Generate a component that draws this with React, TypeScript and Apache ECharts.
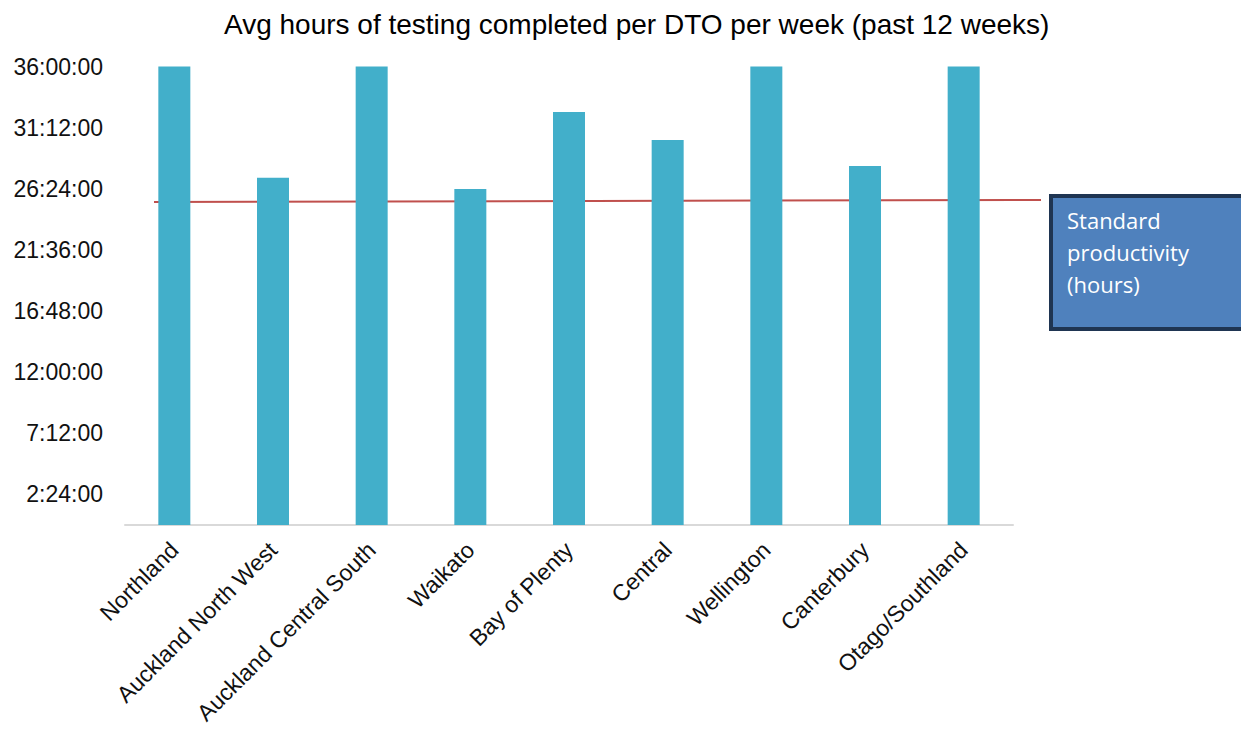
import React, { useEffect, useRef } from "react";
import * as echarts from "echarts";

const titleText = "Avg hours of testing completed per DTO per week (past 12 weeks)";
const categories = [
  "Northland",
  "Auckland North West",
  "Auckland Central South",
  "Waikato",
  "Bay of Plenty",
  "Central",
  "Wellington",
  "Canterbury",
  "Otago/Southland",
];
// average hours per week
const hoursValues = [36, 27.27, 36, 26.38, 32.43, 30.23, 36, 28.19, 36];
// standard productivity line (hours) at left and right ends (drawn slightly sloped in the original)
const standardStart = 25.36;
const standardEnd = 25.52;
const boxLines = ["Standard", "productivity", "(hours)"];
const yMin = 0;
const yMax = 36;
const yStep = 2.4; // labels at odd multiples: 2:24:00, 7:12:00, ...

function fmt(v: number): string {
  const k = Math.round(v / yStep);
  if (k % 2 === 0) return "";
  const mins = Math.round(v * 60);
  const h = Math.floor(mins / 60);
  const m = mins % 60;
  return `${h}:${m < 10 ? "0" + m : m}:00`;
}

export default function App() {
  const ref = useRef<HTMLDivElement>(null);
  useEffect(() => {
    if (!ref.current) return;
    const chart = echarts.init(ref.current, null, { renderer: "svg" });
    const gridLeft = 125;
    const gridRight = 228;
    chart.setOption({
      animation: false,
      backgroundColor: "#ffffff",
      title: {
        text: titleText,
        left: 219,
        top: 5,
        textStyle: {
          fontFamily: "Liberation Sans",
          fontSize: 28,
          fontWeight: "normal",
          color: "#000000",
        },
      },
      grid: { left: gridLeft, right: gridRight, top: 66.5, bottom: 204, containLabel: false },
      xAxis: {
        type: "category",
        data: categories,
        axisTick: { show: false },
        axisLine: { show: true, lineStyle: { color: "#D9D9D9", width: 2 } },
        axisLabel: {
          rotate: 45,
          interval: 0,
          margin: 21,
          fontFamily: "Liberation Sans",
          fontSize: 23,
          color: "#111111",
        },
      },
      yAxis: {
        type: "value",
        min: yMin,
        max: yMax,
        interval: yStep,
        splitLine: { show: false },
        axisLine: { show: false },
        axisTick: { show: false },
        axisLabel: {
          formatter: fmt,
          margin: 22,
          fontFamily: "Liberation Sans",
          fontSize: 23,
          color: "#111111",
        },
      },
      series: [
        {
          type: "bar",
          data: hoursValues,
          barWidth: 32,
          itemStyle: { color: "#42AFCA" },
        },
      ],
    });
    const y1 = chart.convertToPixel({ yAxisIndex: 0 }, standardStart) as number;
    const y2 = chart.convertToPixel({ yAxisIndex: 0 }, standardEnd) as number;
    const w = chart.getWidth();
    const lineX1 = gridLeft + 29;
    const lineX2 = w - gridRight + 28;
    const boxX = lineX2 + 8;
    chart.setOption({
      graphic: [
        {
          type: "line",
          shape: { x1: lineX1, y1: y1, x2: lineX2, y2: y2 },
          style: { stroke: "#C0504D", lineWidth: 2 },
          silent: true,
        },
        {
          type: "rect",
          shape: { x: boxX + 2, y: 196, width: 200, height: 133 },
          style: { fill: "#4F81BD", stroke: "#1F3552", lineWidth: 4 },
          silent: true,
        },
        {
          type: "text",
          x: boxX + 18,
          y: 204,
          style: {
            text: boxLines.join("\n"),
            fill: "#ffffff",
            font: "22px 'Open Sans'",
            lineHeight: 32,
          },
          silent: true,
        },
      ],
    });
    return () => chart.dispose();
  }, []);
  return (
    <div
      ref={ref}
      style={{ position: "fixed", left: 0, top: 0, width: 1241, height: 729 }}
    />
  );
}
